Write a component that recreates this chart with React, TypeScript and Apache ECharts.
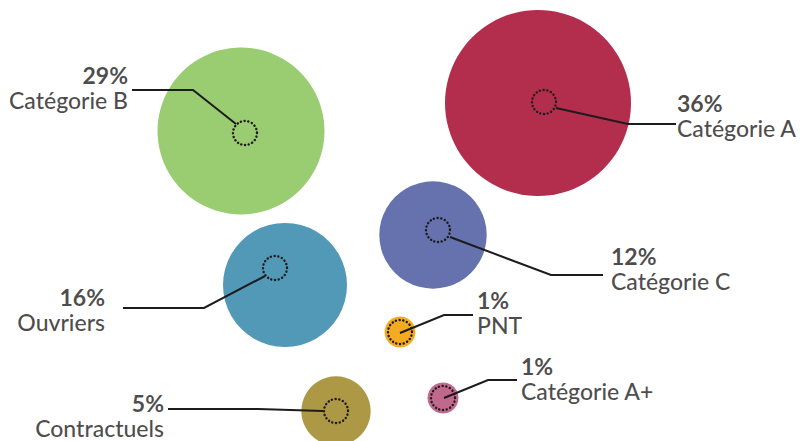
import React, { useEffect, useRef } from "react";
import * as echarts from "echarts";

const categories = ["Catégorie A", "Catégorie B", "Catégorie C", "Ouvriers", "PNT", "Catégorie A+", "Contractuels"];
const shares = [36, 29, 12, 16, 1, 1, 5];
const colors = ["#b32d4d", "#9acc72", "#6572ae", "#5299b8", "#f4ab21", "#c0698c", "#ad9945"];

// layout (in chart coordinates, 1 unit = 1 px)
const bubbleX = [538, 241, 433, 285, 400, 443, 336];
const bubbleY = [103, 131, 235, 285, 332, 398, 411];
const markerX = [544, 245, 438, 275, 400, 443, 336];
const markerY = [102, 133, 230, 268, 332, 398, 411];
const leaderStart = [[556, 108], [236, 124], [450, 237], [265, 276], [400, 333], [444, 398], [323, 411]];
const leaderElbow = [[628, 124], [193, 90], [551, 275], [204, 308], [444, 315], [488, 380], [258, 409]];
const leaderEnd = [[676, 124], [132, 90], [603, 275], [123, 308], [473, 315], [517, 380], [168, 409]];
const labelSide = ["right", "left", "right", "left", "right", "right", "left"];
const labelX = [677, 128, 611, 105, 477, 521, 164];
const labelY = [115, 87, 268, 309, 312, 378, 415];

const FONT = "Lato, 'Open Sans', sans-serif";
const TEXT = "#1e1b1c";

export default function App() {
  const ref = useRef<HTMLDivElement>(null);
  useEffect(() => {
    if (!ref.current) return;
    const chart = echarts.init(ref.current, undefined, { renderer: "svg" });
    const labelData = categories.map((c, i) => {
      const al = labelSide[i] === "left" ? "right" : "left";
      return {
        value: [labelX[i], labelY[i]],
        name: c,
        label: {
          position: labelSide[i] as any,
          align: al,
          formatter: `{p|${shares[i]}%}\n{n|${c}}`,
          rich: {
            p: { fontWeight: "bold", fontSize: 23, lineHeight: 25, color: TEXT, fontFamily: FONT, align: al },
            n: { fontWeight: 500, fontSize: 23, lineHeight: 25, color: TEXT, fontFamily: FONT, align: al },
          },
        },
      };
    });
    chart.setOption({
      animation: false,
      grid: { left: 0, right: 0, top: 0, bottom: 0, containLabel: false },
      xAxis: { type: "value", min: 0, max: 800, show: false },
      yAxis: { type: "value", min: 0, max: 441, inverse: true, show: false },
      series: [
        {
          type: "scatter",
          data: categories.map((c, i) => ({
            name: c,
            value: [bubbleX[i], bubbleY[i], shares[i]],
            itemStyle: { color: colors[i], opacity: 1 },
          })),
          symbolSize: (v: number[]) => 31 * Math.sqrt(v[2]),
          silent: true,
          z: 1,
        },
        {
          type: "lines",
          coordinateSystem: "cartesian2d",
          polyline: true,
          data: categories.map((c, i) => ({ coords: [leaderStart[i], leaderElbow[i], leaderEnd[i]] })),
          lineStyle: { color: TEXT, width: 2, opacity: 1 },
          silent: true,
          z: 3,
        },
        {
          type: "scatter",
          data: categories.map((c, i) => [markerX[i], markerY[i]]),
          symbolSize: 24,
          itemStyle: {
            color: "rgba(0,0,0,0)",
            borderColor: TEXT,
            borderWidth: 2.4,
            borderType: [0.1, 3.6],
            borderCap: "round",
            opacity: 1,
          },
          silent: true,
          z: 2,
        },
        {
          type: "scatter",
          data: labelData,
          symbolSize: 0,
          label: { show: true, distance: 0 },
          silent: true,
          z: 4,
        },
      ],
    });
    return () => chart.dispose();
  }, []);
  return <div ref={ref} style={{ position: "fixed", left: 0, top: 0, width: 800, height: 441, background: "#fff" }} />;
}
